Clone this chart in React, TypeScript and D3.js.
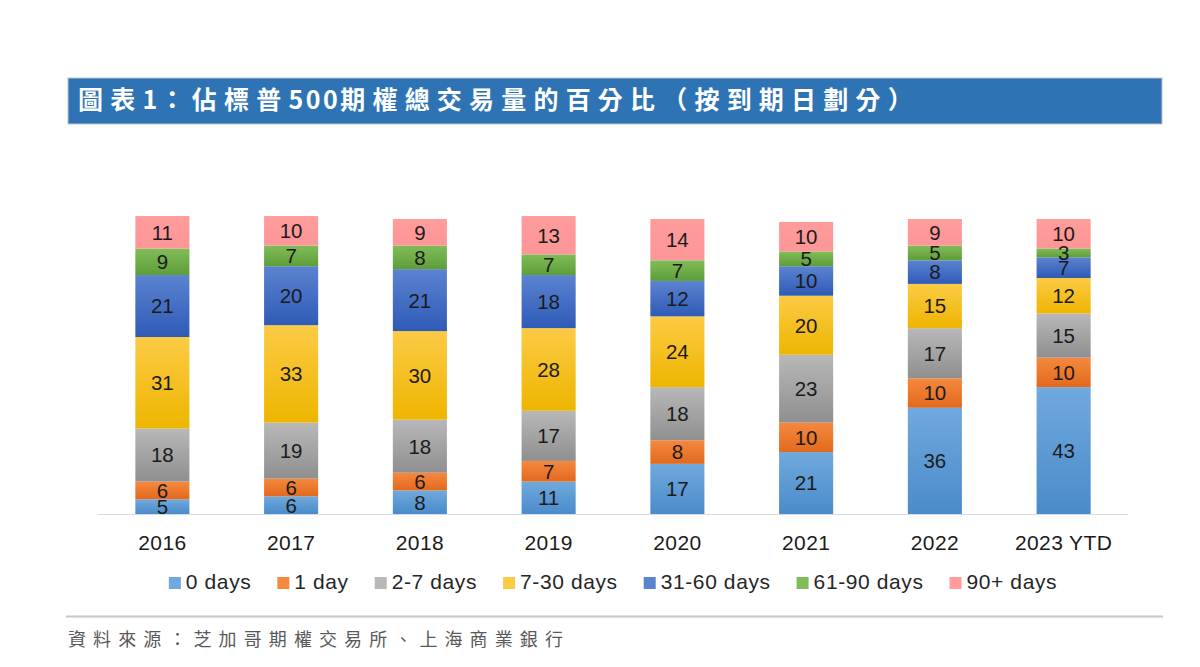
import React, { useEffect, useRef } from 'react';
import * as d3 from 'd3';

// share of SPX options volume by days to expiry (%)
const years = ['2016', '2017', '2018', '2019', '2020', '2021', '2022', '2023 YTD'];
const buckets = ['0 days', '1 day', '2-7 days', '7-30 days', '31-60 days', '61-90 days', '90+ days'];

const days0 = [5, 6, 8, 11, 17, 21, 36, 43];
const day1 = [6, 6, 6, 7, 8, 10, 10, 10];
const days2to7 = [18, 19, 18, 17, 18, 23, 17, 15];
const days7to30 = [31, 33, 30, 28, 24, 20, 15, 12];
const days31to60 = [21, 20, 21, 18, 12, 10, 8, 7];
const days61to90 = [9, 7, 8, 7, 7, 5, 5, 3];
const days90plus = [11, 10, 9, 13, 14, 10, 9, 10];

const seriesValues = [days0, day1, days2to7, days7to30, days31to60, days61to90, days90plus];

// top / bottom colours for the vertical bar gradients
const fills: [string, string][] = [
  ['#70a9dd', '#4a8bca'],
  ['#f5893f', '#e2691d'],
  ['#b8b8b8', '#8f8f8f'],
  ['#fccb45', '#eeb500'],
  ['#5b83d0', '#2f5bb7'],
  ['#80bd58', '#5f9d3a'],
  ['#ff9c9c', '#fd9696'],
];

// title split so the digits can be set tighter than the CJK characters
const titleParts = ['圖表', '1', '：佔標普', '500', '期權總交易量的百分比（按到期日劃分）'];
const sourceText = '資料來源：芝加哥期權交易所、上海商業銀行';

const WIDTH = 1200;
const HEIGHT = 667;
const LATIN = 'Arial, "Liberation Sans", Helvetica, sans-serif';
const CJK = '"Noto Sans CJK TC", "Noto Sans CJK SC", sans-serif';

export default function App() {
  const ref = useRef<SVGSVGElement | null>(null);

  useEffect(() => {
    const svg = d3.select(ref.current);
    svg.selectAll('*').remove();

    const rows = years.map((year, i) => {
      const row: any = { year };
      buckets.forEach((b, j) => (row[b] = seriesValues[j][i]));
      return row;
    });
    const stacked = d3.stack<any>().keys(buckets)(rows);

    const x = d3.scaleBand().domain(years).range([98, 1128]).paddingInner(0.58).paddingOuter(0.29);
    const y = d3.scaleLinear().domain([0, 100]).range([514, 219]);

    // gradients
    const defs = svg.append('defs');
    fills.forEach(([top, bottom], i) => {
      const g = defs.append('linearGradient')
        .attr('id', `grad${i}`)
        .attr('x1', 0).attr('y1', 0).attr('x2', 0).attr('y2', 1);
      g.append('stop').attr('offset', '0%').attr('stop-color', top);
      g.append('stop').attr('offset', '100%').attr('stop-color', bottom);
    });

    svg.append('rect').attr('width', WIDTH).attr('height', HEIGHT).attr('fill', '#ffffff');

    // title bar
    svg.append('rect')
      .attr('x', 68).attr('y', 78).attr('width', 1094).attr('height', 46)
      .attr('fill', '#2e74b5')
      .attr('stroke', '#c4c4c4').attr('stroke-width', 1);
    const title = svg.append('text')
      .attr('x', 78).attr('y', 108.5)
      .attr('fill', '#ffffff')
      .attr('font-family', CJK)
      .attr('font-weight', 700)
      .attr('font-size', 25);
    titleParts.forEach((part, i) => {
      title.append('tspan')
        .attr('letter-spacing', i % 2 === 1 ? 2.5 : 7.2)
        .text(part);
    });

    // stacked bars
    const layers = svg.append('g')
      .selectAll('g')
      .data(stacked)
      .join('g')
      .attr('fill', (_d, i) => `url(#grad${i})`);

    layers.selectAll('rect')
      .data(d => d)
      .join('rect')
      .attr('x', d => x(d.data.year) as number)
      .attr('width', x.bandwidth())
      .attr('y', d => y(d[1]))
      .attr('height', d => y(d[0]) - y(d[1]));

    // value labels
    const labels = svg.append('g')
      .attr('font-family', LATIN)
      .attr('font-size', 20.5)
      .attr('fill', '#1b1b1b')
      .attr('text-anchor', 'middle');
    stacked.forEach(layer => {
      labels.selectAll(null)
        .data(layer)
        .join('text')
        .attr('x', d => (x(d.data.year) as number) + x.bandwidth() / 2)
        .attr('y', d => (y(d[0]) + y(d[1])) / 2)
        .attr('dy', '0.36em')
        .text(d => d[1] - d[0]);
    });

    // baseline
    svg.append('line')
      .attr('x1', 98).attr('x2', 1128)
      .attr('y1', y(0) + 0.5).attr('y2', y(0) + 0.5)
      .attr('stroke', '#d5dbe3').attr('stroke-width', 1);

    // category axis
    const xAxis = d3.axisBottom(x).tickSize(0).tickPadding(0);
    const axisG = svg.append('g')
      .attr('transform', `translate(0, ${y(0)})`)
      .call(xAxis);
    axisG.select('.domain').remove();
    axisG.selectAll('text')
      .attr('y', 36)
      .attr('dy', 0)
      .attr('font-family', LATIN)
      .attr('font-size', 21)
      .attr('letter-spacing', 0.4)
      .attr('fill', '#1b1b1b');

    // legend, centred under the plot
    const legend = svg.append('g')
      .attr('font-family', LATIN)
      .attr('font-size', 21)
      .attr('letter-spacing', 0.6)
      .attr('fill', '#262626');
    const items = legend.selectAll('g')
      .data(buckets)
      .join('g');
    items.append('rect')
      .attr('y', 577)
      .attr('width', 12).attr('height', 12)
      .attr('fill', (_d, i) => fills[i][0]);
    items.append('text')
      .attr('x', 17)
      .attr('y', 589)
      .text(d => d);

    const widths: number[] = [];
    items.each(function () {
      const t = d3.select(this).select('text').node() as SVGTextElement;
      widths.push(17 + t.getComputedTextLength());
    });
    const gap = 26;
    const total = d3.sum(widths) + gap * (widths.length - 1);
    let cursor = (98 + 1128) / 2 - total / 2;
    items.attr('transform', (_d, i) => {
      const tx = cursor;
      cursor += widths[i] + gap;
      return `translate(${tx}, 0)`;
    });

    // footer
    svg.append('line')
      .attr('x1', 66).attr('x2', 1163)
      .attr('y1', 616.5).attr('y2', 616.5)
      .attr('stroke', '#c8c8c8').attr('stroke-width', 2);
    svg.append('text')
      .attr('x', 68).attr('y', 645.5)
      .attr('fill', '#595959')
      .attr('font-family', CJK)
      .attr('font-size', 18)
      .attr('letter-spacing', 7.1)
      .text(sourceText);
  }, []);

  return (
    <svg
      ref={ref}
      width={WIDTH}
      height={HEIGHT}
      style={{ position: 'absolute', left: 0, top: 0, display: 'block' }}
    />
  );
}
